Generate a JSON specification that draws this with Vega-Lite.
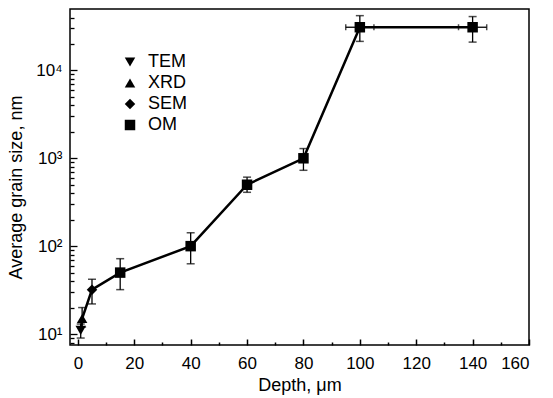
{
  "$schema": "https://vega.github.io/schema/vega-lite/v6.json",
  "width": 459,
  "height": 336,
  "autosize": {"type": "none"},
  "padding": {"left": 70, "top": 9, "right": 24, "bottom": 53},
  "config": {
    "view": {"stroke": "black", "strokeWidth": 1.5},
    "font": "Liberation Sans",
    "axis": {"grid": false, "domain": false, "labelFont": "Liberation Sans", "titleFont": "Liberation Sans", "labelColor": "black", "titleColor": "black", "tickColor": "black"}
  },
  "data": {"values": [
    {"depth": 1, "size": 11, "method": "TEM", "ylo": 9, "yhi": 13},
    {"depth": 1.5, "size": 15, "method": "XRD", "ylo": 12, "yhi": 20},
    {"depth": 5, "size": 32, "method": "SEM", "ylo": 22, "yhi": 42},
    {"depth": 15, "size": 50, "method": "OM", "ylo": 32, "yhi": 72},
    {"depth": 40, "size": 100, "method": "OM", "ylo": 63, "yhi": 142},
    {"depth": 60, "size": 500, "method": "OM", "ylo": 410, "yhi": 610},
    {"depth": 80, "size": 1000, "method": "OM", "ylo": 730, "yhi": 1290},
    {"depth": 100, "size": 31000, "method": "OM", "ylo": 21400, "yhi": 42000, "xlo": 95, "xhi": 105},
    {"depth": 140, "size": 31000, "method": "OM", "ylo": 21000, "yhi": 41000, "xlo": 135, "xhi": 145}
  ]},
  "encoding": {
    "x": {"field": "depth", "type": "quantitative", "scale": {"domain": [-2.8, 160], "nice": false, "zero": false},
      "axis": {"values": [0, 10, 20, 30, 40, 50, 60, 70, 80, 90, 100, 110, 120, 130, 140, 150, 160],
        "labelExpr": "datum.value % 20 == 0 ? datum.label : ''",
        "tickSize": {"condition": {"test": "datum.value % 20 == 0", "value": -6}, "value": -3},
        "tickWidth": 1.5, "labelPadding": 16, "labelFontSize": 17, "title": "Depth, μm", "titleFontSize": 18, "titleFontWeight": "normal", "titlePadding": 5}}
  },
  "layer": [
    {
      "mark": {"type": "line", "color": "black", "strokeWidth": 2.5},
      "encoding": {
        "y": {"field": "size", "type": "quantitative", "scale": {"type": "log", "domain": [7.5, 50000], "nice": false},
          "axis": {"values": [8, 9, 10, 20, 30, 40, 50, 60, 70, 80, 90, 100, 200, 300, 400, 500, 600, 700, 800, 900, 1000, 2000, 3000, 4000, 5000, 6000, 7000, 8000, 9000, 10000, 20000, 30000, 40000],
            "labelExpr": "datum.value == 10 ? '10¹' : datum.value == 100 ? '10²' : datum.value == 1000 ? '10³' : datum.value == 10000 ? '10⁴' : ''",
            "tickSize": {"condition": {"test": "datum.value == 10 || datum.value == 100 || datum.value == 1000 || datum.value == 10000", "value": -7}, "value": -4},
            "tickWidth": 1.3, "labelPadding": 15, "labelFontSize": 17, "title": "Average grain size, nm", "titleFontSize": 18, "titleFontWeight": "normal", "titlePadding": 10, "titleY": 178}},
        "order": {"field": "depth", "type": "quantitative"}
      }
    },
    {
      "mark": {"type": "rule", "color": "black", "strokeWidth": 1.3},
      "encoding": {
        "y": {"field": "ylo", "type": "quantitative"},
        "y2": {"field": "yhi"}
      }
    },
    {
      "mark": {"type": "tick", "orient": "horizontal", "color": "black", "size": 8, "thickness": 1.5},
      "encoding": {
        "y": {"field": "ylo", "type": "quantitative"}
      }
    },
    {
      "mark": {"type": "tick", "orient": "horizontal", "color": "black", "size": 8, "thickness": 1.5},
      "encoding": {
        "y": {"field": "yhi", "type": "quantitative"}
      }
    },
    {
      "transform": [{"filter": "isValid(datum.xlo)"}],
      "mark": {"type": "rule", "color": "black", "strokeWidth": 1.3},
      "encoding": {
        "x": {"field": "xlo", "type": "quantitative"},
        "x2": {"field": "xhi"},
        "y": {"field": "size", "type": "quantitative"}
      }
    },
    {
      "transform": [{"filter": "isValid(datum.xlo)"}],
      "mark": {"type": "tick", "orient": "vertical", "color": "black", "size": 6, "thickness": 1.5},
      "encoding": {
        "x": {"field": "xlo", "type": "quantitative"},
        "y": {"field": "size", "type": "quantitative"}
      }
    },
    {
      "transform": [{"filter": "isValid(datum.xlo)"}],
      "mark": {"type": "tick", "orient": "vertical", "color": "black", "size": 6, "thickness": 1.5},
      "encoding": {
        "x": {"field": "xhi", "type": "quantitative"},
        "y": {"field": "size", "type": "quantitative"}
      }
    },
    {
      "mark": {"type": "point", "filled": true, "color": "black", "size": 110, "opacity": 1},
      "encoding": {
        "y": {"field": "size", "type": "quantitative"},
        "shape": {"field": "method", "type": "nominal",
          "scale": {"domain": ["TEM", "XRD", "SEM", "OM"], "range": ["triangle-down", "triangle-up", "diamond", "square"]},
          "legend": {"orient": "none", "legendX": 51, "legendY": 44, "title": null, "labelFontSize": 18, "labelFont": "Liberation Sans", "symbolSize": 110, "symbolFillColor": "black", "symbolStrokeColor": "black", "symbolOpacity": 1, "rowPadding": 3, "labelOffset": 9}}
      }
    }
  ]
}
